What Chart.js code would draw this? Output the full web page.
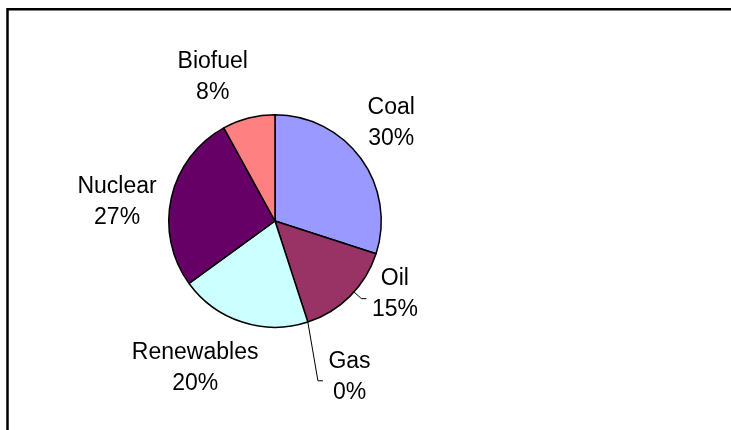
<!DOCTYPE html>
<html>
<head>
<meta charset="utf-8">
<title>Energy sources</title>
<script src="https://cdn.jsdelivr.net/npm/chart.js@4"></script>
<style>
  body { margin: 0; background: #fff; }
</style>
</head>
<body>
<canvas id="myChart" width="731" height="430"></canvas>
<script>
const fuentes = ['Coal', 'Oil', 'Gas', 'Renewables', 'Nuclear', 'Biofuel']
const porcentajes = [30, 15, 0, 20, 27, 8]
const colores = ['#9999FF', '#993366', '#FFFFCC', '#CCFFFF', '#660066', '#FF8080']

// where each label sits: angle from 12 o'clock (deg) and distance in radii
const lugarEtiqueta = [[49, 1.45], [120.5, 1.31], [154, 1.60], [209, 1.55], [277.8, 1.50], [337, 1.50]]
const conLinea = [false, true, true, false, false, false]

const marco = {
    id: 'marco',
    beforeDraw(chart) {
        const c = chart.ctx
        c.save()
        c.fillStyle = '#fff'
        c.fillRect(0, 0, chart.width, chart.height)
        c.strokeStyle = '#000'
        c.lineWidth = 2.5
        c.beginPath()
        c.moveTo(7.5, chart.height)
        c.lineTo(7.5, 9.3)
        c.lineTo(chart.width, 9.3)
        c.stroke()
        c.restore()
    }
}

const etiquetas = {
    id: 'etiquetas',
    afterDatasetsDraw(chart) {
        const c = chart.ctx
        const arcs = chart.getDatasetMeta(0).data
        const total = porcentajes.reduce((a, b) => a + b, 0)
        c.save()
        c.font = '23px "Liberation Sans", Arial, sans-serif'
        c.fillStyle = '#000'
        c.textAlign = 'center'
        c.textBaseline = 'middle'
        arcs.forEach((arc, i) => {
            const cx = arc.x, cy = arc.y, r = arc.outerRadius
            const a = (lugarEtiqueta[i][0] - 90) * Math.PI / 180
            const lx = cx + Math.cos(a) * r * lugarEtiqueta[i][1]
            const ly = cy + Math.sin(a) * r * lugarEtiqueta[i][1] + 3
            const pct = Math.round(porcentajes[i] / total * 100) + '%'
            c.fillText(fuentes[i], lx, ly - 15.5)
            c.fillText(pct, lx, ly + 15.5)
            if (conLinea[i]) {
                const w = Math.max(c.measureText(fuentes[i]).width, c.measureText(pct).width)
                const fin = lx - w / 2 - 5.5
                const codoX = fin - 5, codoY = ly + 4
                // leader starts on the rim, aimed at the elbow but kept inside the slice
                let ang = Math.atan2(codoY - cy, codoX - cx)
                while (ang < arc.startAngle) ang += Math.PI * 2
                ang = Math.min(Math.max(ang, arc.startAngle), arc.endAngle)
                const ex = cx + Math.cos(ang) * r
                const ey = cy + Math.sin(ang) * r
                c.strokeStyle = '#000'
                c.lineWidth = 1
                c.beginPath()
                c.moveTo(ex, ey)
                c.lineTo(codoX, codoY)
                c.lineTo(fin, codoY)
                c.stroke()
            }
        })
        c.restore()
    }
}

const ctx = document.getElementById('myChart')
const myChart = new Chart(ctx, {
    type: 'pie',
    data: {
        labels: fuentes,
        datasets: [{
            data: porcentajes,
            backgroundColor: colores,
            borderColor: '#000',
            borderWidth: 1.5
        }]
    },
    options: {
        responsive: false,
        animation: false,
        layout: { padding: { top: 114, bottom: 102, left: 168, right: 349 } },
        plugins: {
            legend: { display: false },
            tooltip: { enabled: false }
        }
    },
    plugins: [marco, etiquetas]
})
</script>
</body>
</html>
